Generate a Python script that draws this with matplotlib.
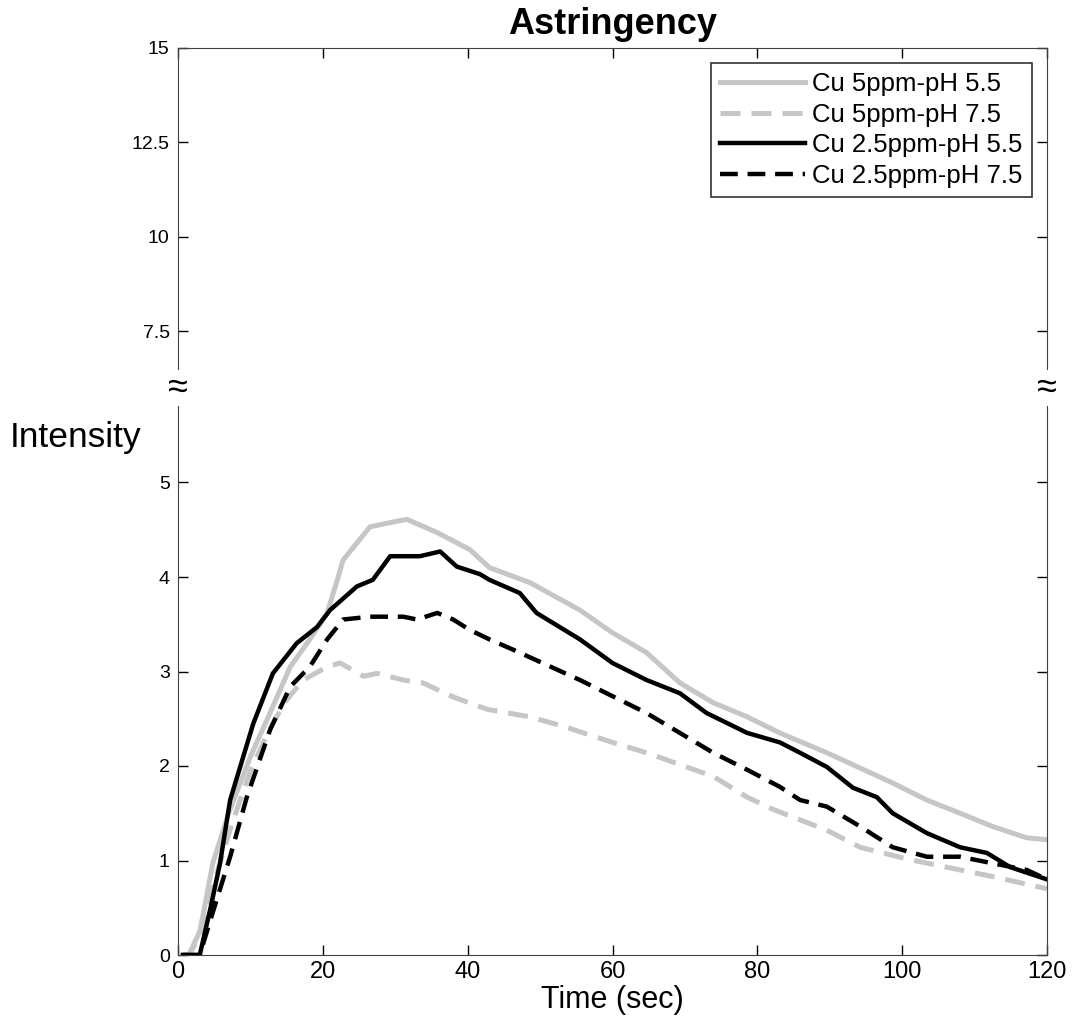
import numpy as np
import matplotlib.pyplot as plt

plt.rcParams['font.family'] = ['Liberation Sans', 'DejaVu Sans']

# time points (sec) and intensity values
t_g55 = [0.5, 1.5, 3.0, 3.5, 4.8, 7.0, 10.0, 12.7, 15.5, 18.2, 20.6, 22.0, 22.8, 26.5, 28.9, 31.6,
         35.8, 40.3, 43.0, 48.6, 55.5, 60.0, 64.7, 69.3, 73.9, 78.6, 83.1, 89.6, 98.7, 103.4,
         108.0, 112.5, 117.2, 120.0]
v_g55 = [0.0, 0.0, 0.25, 0.44, 0.97, 1.5, 2.1, 2.56, 3.05, 3.34, 3.62, 3.97, 4.18, 4.53, 4.57, 4.61,
         4.47, 4.29, 4.1, 3.94, 3.65, 3.41, 3.2, 2.88, 2.67, 2.52, 2.35, 2.14, 1.82, 1.64,
         1.5, 1.36, 1.24, 1.22]

t_g75 = [0.5, 1.5, 3.0, 4.0, 5.5, 7.5, 10.0, 12.7, 15.0, 17.3, 20.6, 22.4, 25.6, 27.5, 31.1, 33.8,
         38.0, 42.7, 48.6, 53.2, 60.0, 64.7, 73.9, 78.6, 82.2, 89.6, 94.2, 101.0, 108.0,
         112.5, 120.0]
v_g75 = [0.0, 0.0, 0.2, 0.45, 0.9, 1.4, 1.95, 2.4, 2.7, 2.91, 3.05, 3.09, 2.95, 2.98, 2.91, 2.88,
         2.73, 2.6, 2.52, 2.42, 2.25, 2.14, 1.89, 1.67, 1.54, 1.32, 1.14, 1.01, 0.9,
         0.83, 0.7]

t_b55 = [0.7, 3.0, 4.5, 5.8, 7.2, 10.4, 13.1, 16.4, 19.2, 21.0, 24.7, 26.9, 29.3, 33.4, 36.2,
         38.5, 41.7, 43.0, 47.2, 49.5, 55.5, 60.0, 64.7, 69.3, 73.0, 78.6, 83.1, 85.9, 89.6,
         93.2, 96.5, 98.7, 103.4, 108.0, 111.7, 114.9, 120.0]
v_b55 = [0.0, 0.0, 0.5, 0.97, 1.64, 2.45, 2.98, 3.3, 3.47, 3.65, 3.9, 3.97, 4.22, 4.22, 4.27,
         4.11, 4.03, 3.97, 3.83, 3.62, 3.34, 3.09, 2.91, 2.77, 2.56, 2.35, 2.25, 2.14, 1.99,
         1.77, 1.67, 1.5, 1.29, 1.14, 1.08, 0.93, 0.8]

t_b75 = [0.7, 3.0, 5.0, 7.2, 9.5, 12.7, 15.5, 18.2, 20.6, 22.8, 26.5, 31.1, 33.0, 35.8, 38.0,
         40.3, 43.0, 46.3, 55.5, 64.7, 73.9, 78.6, 83.1, 85.9, 89.6, 94.2, 98.7, 103.4, 108.0,
         112.5, 117.2, 120.0]
v_b75 = [0.0, 0.0, 0.5, 1.04, 1.67, 2.38, 2.84, 3.05, 3.34, 3.55, 3.58, 3.58, 3.55, 3.62, 3.55,
         3.44, 3.34, 3.23, 2.91, 2.56, 2.14, 1.96, 1.78, 1.64, 1.57, 1.36, 1.14, 1.04, 1.04,
         0.97, 0.9, 0.8]

labels = ['Cu 5ppm-pH 5.5', 'Cu 5ppm-pH 7.5', 'Cu 2.5ppm-pH 5.5', 'Cu 2.5ppm-pH 7.5']
grey = '#c6c6c6'

fig = plt.figure(figsize=(10.73, 10.22), dpi=100)
L, R = 178 / 1073, 1047 / 1073
y0, yb, y1 = 1 - 955 / 1022, 1 - 388 / 1022, 1 - 48 / 1022
ax_top = fig.add_axes([L, yb, R - L, y1 - yb])
ax = fig.add_axes([L, y0, R - L, yb - y0])

for a in (ax, ax_top):
    a.plot(t_g55, v_g55, color=grey, lw=3.6, label=labels[0])
    a.plot(t_g75, v_g75, color=grey, lw=3.6, dashes=(4.0, 2.2), label=labels[1])
    a.plot(t_b55, v_b55, color='black', lw=3.2, label=labels[2])
    a.plot(t_b75, v_b75, color='black', lw=3.2, dashes=(4.0, 2.2), label=labels[3])
    a.set_xlim(0, 120)
    a.tick_params(direction='in', top=True, right=True, length=7, width=1, pad=6)
    a.tick_params(axis='y', labelsize=14)
    a.tick_params(axis='x', labelsize=17, pad=4)
    for s in a.spines.values():
        s.set_color('#404040')

ax.set_ylim(0, 6)
ax.set_yticks([0, 1, 2, 3, 4, 5])
ax.set_xticks([0, 20, 40, 60, 80, 100, 120])
ax.spines['top'].set_visible(False)
ax.tick_params(top=False)
ax.set_xlabel('Time (sec)', fontsize=22, labelpad=2)

ax_top.set_ylim(6, 15)
ax_top.set_yticks([7.5, 10, 12.5, 15])
ax_top.set_yticklabels(['7.5', '10', '12.5', '15'])
ax_top.set_xticks([0, 20, 40, 60, 80, 100, 120])
ax_top.tick_params(labelbottom=False, bottom=False)
ax_top.spines['bottom'].set_visible(False)
ax_top.set_title('Astringency', fontsize=26, fontweight='bold', pad=10)

leg = ax_top.legend(loc='upper right', fontsize=18.5, frameon=True, fancybox=False,
                    edgecolor='black', handlelength=3.3, handletextpad=0.3,
                    labelspacing=0.25, borderpad=0.35, borderaxespad=0.6)
leg.get_frame().set_linewidth(1.2)

# axis break marks
for xf in (L, R):
    fig.text(xf, yb, '\u2248', fontsize=26, ha='center', va='center',
             bbox=dict(facecolor='white', edgecolor='none', pad=0.3))

fig.text(10 / 1073, 1 - 437 / 1022, 'Intensity', fontsize=25.5, ha='left', va='center')

fig.savefig('out.png', dpi=100)
